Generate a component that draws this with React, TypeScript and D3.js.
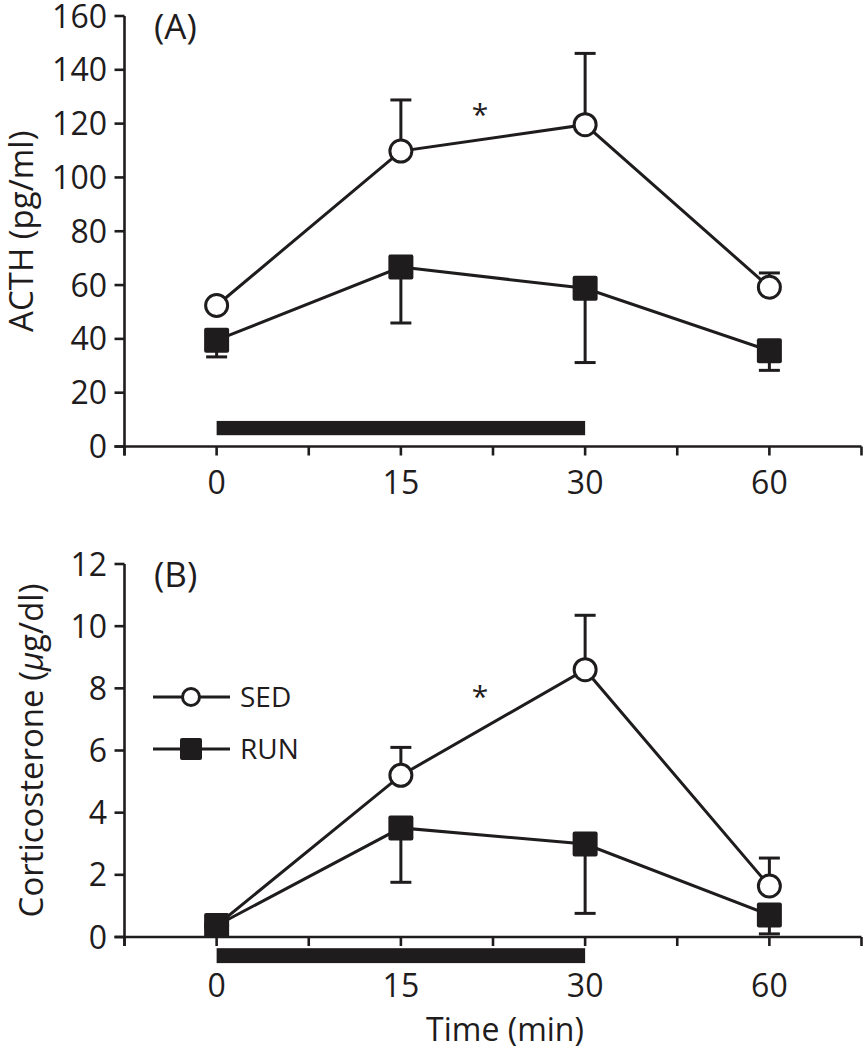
import React from "react";
import * as d3 from "d3";

// ---- data ----
const timeLabels = ["0", "15", "30", "60"];
const timeSlots = [1, 3, 5, 7]; // positions on the categorical time axis (minor ticks between)
const minorSlots = [0, 1, 2, 3, 4, 5, 6, 7, 8];

const acthTicks = [0, 20, 40, 60, 80, 100, 120, 140, 160];
const acthSED = [52.4, 109.8, 119.6, 59.2];
const acthSEDErr = [0, 19, 26.5, 5.3];
const acthRUN = [39.5, 66.7, 58.8, 35.6];
const acthRUNErr = [6.2, 20.8, 27.6, 7.3];

const corTicks = [0, 2, 4, 6, 8, 10, 12];
const corSED = [0.37, 5.2, 8.6, 1.64];
const corSEDErr = [0.1, 0.9, 1.75, 0.9];
const corRUN = [0.37, 3.51, 2.99, 0.71];
const corRUNErr = [0.1, 1.75, 2.23, 0.61];

// stimulus bars (time 0 -> 30), in y-units of each panel
const acthBar = [4.2, 9.5];
const corBar = [-0.84, -0.36];
// significance marks [slot, value]
const acthStar = [3.86, 126.5];
const corStar = [3.86, 8.0];

const INK = "#1f1c1d";
const FONT = "'Open Sans', 'Noto Sans', sans-serif";

const x = d3.scaleLinear().domain([0, 8]).range([124.5, 861.5]);

type PanelProps = {
  y: d3.ScaleLinear<number, number>;
  ticks: number[];
  sed: number[];
  sedErr: number[];
  run: number[];
  runErr: number[];
  bar: number[];
  star: number[];
  tag: string;
  title: React.ReactNode;
  tickLabelY: number;
  titleX: number;
};

function Panel({ y, ticks, sed, sedErr, run, runErr, bar, star, tag, title, tickLabelY, titleX }: PanelProps) {
  const y0 = y(0);
  const yTop = y(ticks[ticks.length - 1]);
  const line = d3
    .line<number>()
    .x((_, i) => x(timeSlots[i]))
    .y((d) => y(d));
  const cap = 10.5;
  const minErr = 0.2 * (ticks[1] - ticks[0]);
  return (
    <g>
      {/* axes */}
      <line x1={x(0)} x2={x(0)} y1={yTop} y2={y0 + 9} stroke={INK} strokeWidth={2.6} />
      <line x1={x(0) - 10} x2={x(8)} y1={y0} y2={y0} stroke={INK} strokeWidth={2.6} />
      {ticks.map((t) => (
        <g key={"yt" + t}>
          <line x1={x(0) - 10} x2={x(0)} y1={y(t)} y2={y(t)} stroke={INK} strokeWidth={2.6} />
          <text x={107} y={y(t)} dy="0.36em" textAnchor="end" fontSize={32} fontFamily={FONT} fill={INK}>
            {t}
          </text>
        </g>
      ))}
      {minorSlots.map((s) => (
        <line key={"xt" + s} x1={x(s)} x2={x(s)} y1={y0} y2={y0 + 9} stroke={INK} strokeWidth={2.6} />
      ))}
      {timeSlots.map((s, i) => (
        <text key={"xl" + s} x={x(s)} y={tickLabelY} textAnchor="middle" fontSize={32} fontFamily={FONT} fill={INK}>
          {timeLabels[i]}
        </text>
      ))}
      {/* stimulus bar */}
      <rect
        x={x(timeSlots[0])}
        width={x(timeSlots[2]) - x(timeSlots[0])}
        y={y(bar[1])}
        height={y(bar[0]) - y(bar[1])}
        fill={INK}
      />
      {/* lines */}
      <path d={line(sed) || ""} fill="none" stroke={INK} strokeWidth={3} />
      <path d={line(run) || ""} fill="none" stroke={INK} strokeWidth={3} />
      {/* error bars */}
      {sed.map((v, i) =>
        sedErr[i] > minErr ? (
          <g key={"se" + i}>
            <line x1={x(timeSlots[i])} x2={x(timeSlots[i])} y1={y(v)} y2={y(v + sedErr[i])} stroke={INK} strokeWidth={3} />
            <line x1={x(timeSlots[i]) - cap} x2={x(timeSlots[i]) + cap} y1={y(v + sedErr[i])} y2={y(v + sedErr[i])} stroke={INK} strokeWidth={3} />
          </g>
        ) : null
      )}
      {run.map((v, i) =>
        runErr[i] > minErr ? (
          <g key={"re" + i}>
            <line x1={x(timeSlots[i])} x2={x(timeSlots[i])} y1={y(v)} y2={y(v - runErr[i])} stroke={INK} strokeWidth={3} />
            <line x1={x(timeSlots[i]) - cap} x2={x(timeSlots[i]) + cap} y1={y(v - runErr[i])} y2={y(v - runErr[i])} stroke={INK} strokeWidth={3} />
          </g>
        ) : null
      )}
      {/* markers */}
      {sed.map((v, i) => (
        <circle key={"sm" + i} cx={x(timeSlots[i])} cy={y(v)} r={11} fill="#fff" stroke={INK} strokeWidth={3} />
      ))}
      {run.map((v, i) => (
        <rect key={"rm" + i} x={x(timeSlots[i]) - 12.5} y={y(v) - 12.5} width={25} height={25} rx={2} fill={INK} />
      ))}
      {/* significance */}
      <text x={x(star[0])} y={y(star[1])} dy="0.62em" textAnchor="middle" fontSize={30} fontFamily={FONT} fill={INK}>
        *
      </text>
      {/* panel tag */}
      <text x={154} y={yTop + 23} fontSize={35} fontFamily={FONT} fill={INK}>
        {tag}
      </text>
      {/* y title */}
      <g transform={`translate(${titleX},${(y0 + yTop) / 2}) rotate(-90)`}>
        <text textAnchor="middle" fontSize={33} fontFamily={FONT} fill={INK}>
          {title}
        </text>
      </g>
    </g>
  );
}

export default function App() {
  const yA = d3.scaleLinear().domain([0, 160]).range([446.5, 16]);
  const yB = d3.scaleLinear().domain([0, 12]).range([937, 564]);
  return (
    <svg width={864} height={1050} style={{ position: "absolute", left: 0, top: 0, background: "#fff" }}>
      <rect width={864} height={1050} fill="#fff" />
      <Panel
        y={yA}
        ticks={acthTicks}
        sed={acthSED}
        sedErr={acthSEDErr}
        run={acthRUN}
        runErr={acthRUNErr}
        bar={acthBar}
        star={acthStar}
        tag="(A)"
        title="ACTH (pg/ml)"
        tickLabelY={494}
        titleX={33}
      />
      <Panel
        y={yB}
        ticks={corTicks}
        sed={corSED}
        sedErr={corSEDErr}
        run={corRUN}
        runErr={corRUNErr}
        bar={corBar}
        star={corStar}
        tag="(B)"
        title={
          <>
            Corticosterone (<tspan fontStyle="italic">μ</tspan>g/dl)
          </>
        }
        tickLabelY={997}
        titleX={43}
      />
      {/* legend */}
      <g>
        <line x1={153} x2={230} y1={697} y2={697} stroke={INK} strokeWidth={3} />
        <circle cx={191} cy={697} r={8.5} fill="#fff" stroke={INK} strokeWidth={3} />
        <text x={240} y={697} dy="0.36em" fontSize={28} fontFamily={FONT} fill={INK}>
          SED
        </text>
        <line x1={153} x2={230} y1={749} y2={749} stroke={INK} strokeWidth={3} />
        <rect x={180} y={738} width={22} height={22} rx={2} fill={INK} />
        <text x={240} y={749} dy="0.36em" fontSize={28} fontFamily={FONT} fill={INK}>
          RUN
        </text>
      </g>
      <text x={505} y={1041} textAnchor="middle" fontSize={32} fontFamily={FONT} fill={INK}>
        Time (min)
      </text>
    </svg>
  );
}
